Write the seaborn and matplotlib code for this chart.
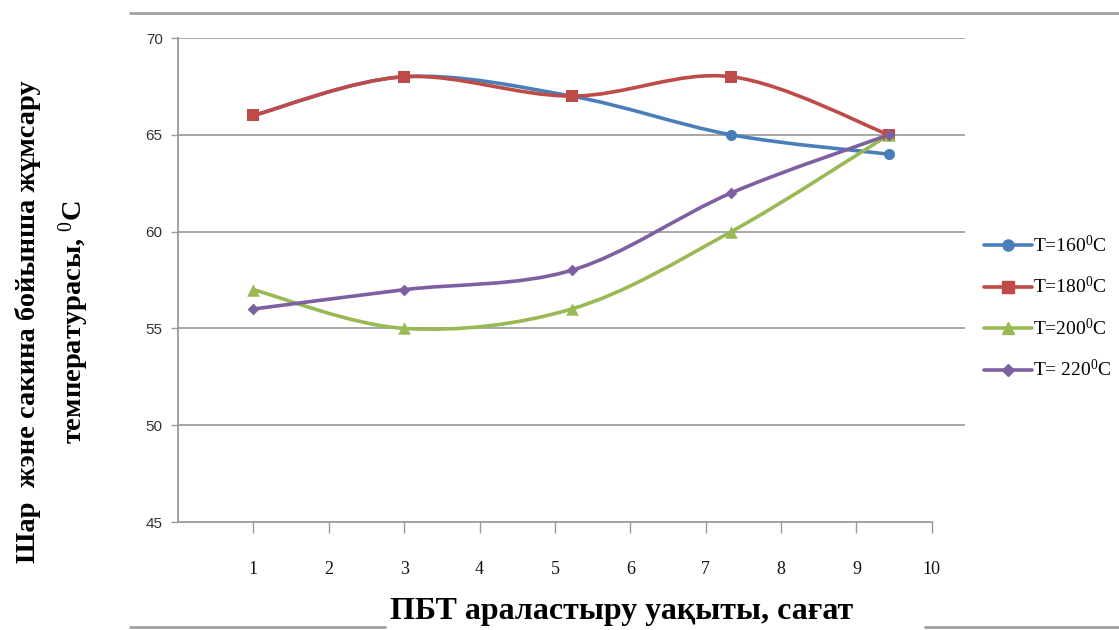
import numpy as np
import pandas as pd
import seaborn as sns
import matplotlib.pyplot as plt
from matplotlib.path import Path
from matplotlib.patches import PathPatch
from matplotlib.lines import Line2D

# ================== DATA ==================
x_hours = [1.0, 3.0, 5.22, 7.34, 9.43]
t160 = [66, 68, 67, 65, 64]
t180 = [66, 68, 67, 68, 65]
t200 = [57, 55, 56, 60, 65]
t220 = [56, 57, 58, 62, 65]

series_names = ["T=160$^{0}$C", "T=180$^{0}$C", "T=200$^{0}$C", "T= 220$^{0}$C"]
colors = ["#4A7EBB", "#BE4B48", "#98B954", "#7D60A0"]
markers = ["o", "s", "^", "D"]
msizes = [8, 8, 9, 6]

x_ticks = list(range(1, 11))
y_ticks = [45, 50, 55, 60, 65, 70]

ylabel_text = "Шар  жэне сакина бойынша жұмсару\nтемпературасы, $^{0}$C"
xlabel_text = "ПБТ араластыру уақыты, сағат"

# ================== STYLE ==================
sns.set_theme(style="white")
plt.rcParams["font.family"] = ["Liberation Serif", "DejaVu Serif"]
plt.rcParams["mathtext.fontset"] = "custom"
plt.rcParams["mathtext.rm"] = "Liberation Serif"
plt.rcParams["mathtext.it"] = "Liberation Serif"
plt.rcParams["mathtext.bf"] = "Liberation Serif:bold"

df = pd.DataFrame({
    "x": x_hours * 4,
    "y": t160 + t180 + t200 + t220,
    "series": sum([[n] * len(x_hours) for n in series_names], []),
})

fig = plt.figure(figsize=(11.19, 6.30), dpi=100)
ax = fig.add_axes([178 / 1119, 1 - 522 / 630, (965 - 178) / 1119, (522 - 38) / 630])


def smooth_path(xs, ys):
    # excel-like smoothed line: cubic bezier through the points
    pts = np.column_stack([xs, ys]).astype(float)
    ext = np.vstack([pts[0], pts, pts[-1]])
    verts = [pts[0]]
    codes = [Path.MOVETO]
    for i in range(len(pts) - 1):
        p0, p1, p2, p3 = ext[i], ext[i + 1], ext[i + 2], ext[i + 3]
        c1 = p1 + (p2 - p0) / 6
        c2 = p2 - (p3 - p1) / 6
        verts += [c1, c2, p2]
        codes += [Path.CURVE4] * 3
    return Path(verts, codes)


for name, col in zip(series_names, colors):
    sub = df[df["series"] == name]
    ax.add_patch(PathPatch(smooth_path(sub["x"], sub["y"]), facecolor="none",
                           edgecolor=col, lw=2.6, zorder=3))

for name, col, m, ms in zip(series_names, colors, markers, msizes):
    sub = df[df["series"] == name]
    sns.scatterplot(data=sub, x="x", y="y", marker=m, color=col, s=ms ** 2,
                    edgecolor=col, linewidth=0, ax=ax, zorder=4, legend=False)

ax.set_xlim(0, 10.44)
ax.set_ylim(45, 70)
ax.set_yticks(y_ticks)
ax.set_xticks(x_ticks)
ax.set_xticklabels([str(v) for v in x_ticks], fontsize=13, color="#111111")
ax.set_yticklabels([str(v) for v in y_ticks], fontsize=11, color="#333333",
                   family="Liberation Sans")
ax.tick_params(axis="x", direction="out", length=8, width=1, color="#9A9A9A", pad=20, bottom=True)
ax.tick_params(axis="y", direction="out", length=5, width=1, color="#9A9A9A", pad=6, left=True)
ax.grid(axis="y", color="#A0A0A0", lw=1.3)
ax.grid(axis="x", visible=False)
ax.yaxis.get_gridlines()[0].set_visible(False)
ax.set_axisbelow(True)
for s in ["top", "right"]:
    ax.spines[s].set_visible(False)
ax.spines["left"].set_color("#9A9A9A")
ax.spines["bottom"].set_color("#9A9A9A")
ax.spines["left"].set_linewidth(1.3)
ax.spines["bottom"].set_linewidth(1.3)
ax.spines["bottom"].set_bounds(0, 10)
ax.set_xlabel("")
ax.set_ylabel("")

# labels
fig.text(53 / 1119, 1 - 322 / 630, ylabel_text, rotation=90, ha="center", va="center",
         fontsize=20.5, fontweight="bold", linespacing=1.6, multialignment="center",
         color="black")
fig.text(622 / 1119, 1 - 611 / 630, xlabel_text, ha="center", va="center",
         fontsize=23, fontweight="bold", color="black")

# frame remnants
for (x0, x1, y) in [(130, 1119, 13), (130, 385, 627), (925, 1119, 627)]:
    fig.add_artist(Line2D([x0 / 1119, x1 / 1119], [1 - y / 630, 1 - y / 630],
                          color="#A0A0A0", lw=2))

handles = [Line2D([], [], color=c, marker=m, markersize=ms, lw=2.6)
           for c, m, ms in zip(colors, markers, msizes)]
leg = fig.legend(handles, series_names, loc="upper left",
                 bbox_to_anchor=(966 / 1119, 1 - 217 / 630), frameon=False,
                 fontsize=14, labelspacing=1.05, handlelength=2.5, handletextpad=0.05)
for t in leg.get_texts():
    t.set_color("black")

fig.savefig("out.png", dpi=100)
